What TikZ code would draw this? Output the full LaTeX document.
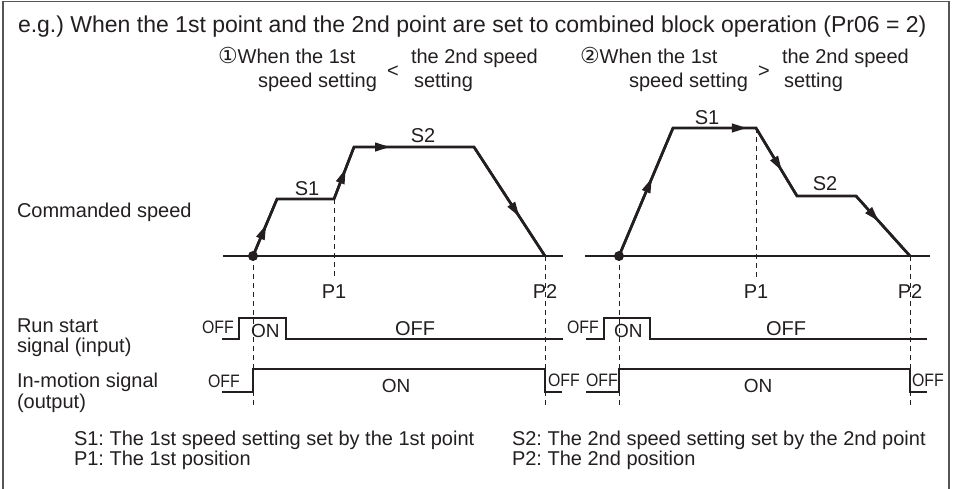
\documentclass[tikz,border=0pt]{standalone}
\usepackage{fontspec}
\setmainfont{Liberation Sans}
\newfontfamily\symfont{DejaVu Sans}
\newfontfamily\narrowfont[FakeStretch=0.88]{Liberation Sans}
\usetikzlibrary{arrows.meta,decorations.markings}
\definecolor{ink}{HTML}{231F20}
\definecolor{framegray}{HTML}{555555}
\frenchspacing
\begin{document}
\begin{tikzpicture}[x=1pt,y=-1pt,
  txt/.style={inner sep=0pt, outer sep=0pt, text=ink},
  ttl/.style={txt, font=\fontsize{23}{27}\selectfont},
  lab/.style={txt, font=\fontsize{20}{24}\selectfont},
  sub/.style={txt, font=\fontsize{20}{24}\selectfont},
  big/.style={txt, font=\fontsize{20}{24}\selectfont},
  sml/.style={txt, font=\narrowfont\fontsize{18}{20}\selectfont},
  onl/.style={txt, font=\fontsize{19}{22}\selectfont},
  foot/.style={txt, font=\fontsize{20}{24}\selectfont},
  speed/.style={line width=2.6pt, line join=miter, draw=ink},
  axis/.style={line width=2.4pt, draw=ink},
  sig/.style={line width=2.2pt, draw=ink, line join=miter},
  guide/.style={line width=1pt, dash pattern=on 5pt off 4pt, draw=ink},
  marr/.style={postaction={decorate}, decoration={markings, mark=at position #1 with {\arrow[ink]{Triangle[length=15pt,width=8.5pt]}}}},
]
\useasboundingbox (0,0) rectangle (954,488);
\draw[framegray, line width=1.5pt] (3,495) -- (3,1.5) -- (949,1.5) -- (949,495);

% title and subtitles
\node[ttl, anchor=base west] (title) at (18,32) {e.g.) When the 1st point and the 2nd point are set to combined block operation (Pr06 = 2)};
\node[sub, anchor=base west] (c1a) at (218,63) {{\symfont\fontsize{22}{24}\selectfont ①}When the 1st};
\node[sub, anchor=base west] (c1b) at (258,87) {speed setting};
\node[sub] (lt) at (393,72) {<};
\node[sub, anchor=base west] (c1c) at (411,63) {the 2nd speed};
\node[sub, anchor=base west] (c1d) at (414,87) {setting};
\node[sub, anchor=base west] (c2a) at (580,63) {{\symfont\fontsize{22}{24}\selectfont ②}When the 1st};
\node[sub, anchor=base west] (c2b) at (629,87) {speed setting};
\node[sub] (gt) at (764,72) {>};
\node[sub, anchor=base west] (c2c) at (782,63) {the 2nd speed};
\node[sub, anchor=base west] (c2d) at (784,87) {setting};

% row labels
\node[lab, anchor=base west] (cs) at (17,217) {Commanded speed};
\node[lab, anchor=base west] (rs1) at (17,332) {Run start};
\node[lab, anchor=base west] (rs2) at (17,352) {signal (input)};
\node[lab, anchor=base west] (im1) at (17,387) {In-motion signal};
\node[lab, anchor=base west] (im2) at (17,408) {(output)};

% left speed graph
\coordinate (LB0) at (223,256);
\coordinate (LB1) at (563,256);
\coordinate (A0) at (253,256);
\coordinate (A1) at (277,199);
\coordinate (A2) at (334,199);
\coordinate (A3) at (354,147);
\coordinate (A4) at (474,147);
\coordinate (A5) at (545,256);
\draw[axis] (LB0) -- (LB1);
\draw[guide] (A0) -- (253,408);
\draw[guide] (A2) -- (334,278);
\draw[guide] (A5) -- (545,408);
\draw[speed] (A0) -- (A1) -- (A2) -- (A3) -- (A4) -- (A5);
\draw[speed, marr=0.55] (A0) -- (A1);
\draw[speed, marr=0.58] (A2) -- (A3);
\draw[speed, marr=0.30] (A3) -- (A4);
\draw[speed, marr=0.64] (A4) -- (A5);
\fill[ink] (A0) circle (5pt);
\node[big] (s1l) at (307,188.5) {S1};
\node[big] (s2l) at (423,136) {S2};
\node[big] (p1l) at (334,292) {P1};
\node[big] (p2l) at (545,292) {P2};

% right speed graph
\coordinate (RB0) at (585,256);
\coordinate (RB1) at (930,256);
\coordinate (B0) at (619,256);
\coordinate (B1) at (673,128);
\coordinate (B2) at (756,128);
\coordinate (B3) at (797,196);
\coordinate (B4) at (856,196);
\coordinate (B5) at (910,256);
\draw[axis] (RB0) -- (RB1);
\draw[guide] (B0) -- (619,408);
\draw[guide] (B2) -- (756,278);
\draw[guide] (B5) -- (910,408);
\draw[speed] (B0) -- (B1) -- (B2) -- (B3) -- (B4) -- (B5);
\draw[speed, marr=0.61] (B0) -- (B1);
\draw[speed, marr=0.89] (B1) -- (B2);
\draw[speed, marr=0.63] (B2) -- (B3);
\draw[speed, marr=0.42] (B4) -- (B5);
\fill[ink] (B0) circle (5pt);
\node[big] (s1r) at (707,117.5) {S1};
\node[big] (s2r) at (825,184) {S2};
\node[big] (p1r) at (756,292) {P1};
\node[big] (p2r) at (910,292) {P2};

% run start signal
\draw[sig] (222,339) -- (239,339) -- (239,318) -- (286,318) -- (286,339) -- (563,339);
\draw[sig] (586,339) -- (604,339) -- (604,318) -- (650,318) -- (650,339) -- (927,339);
\node[sml, anchor=base west] (rsoff1) at (202,333) {OFF};
\node[onl, anchor=base west] (rson1) at (251,337) {ON};
\node[big, anchor=base] (rsoff2) at (415,335) {OFF};
\node[sml, anchor=base west] (rsoff3) at (567,333) {OFF};
\node[onl, anchor=base west] (rson2) at (614,337) {ON};
\node[big, anchor=base] (rsoff4) at (786,335) {OFF};

% in-motion signal
\draw[sig] (222,392) -- (253,392) -- (253,369) -- (545,369) -- (545,392) -- (562,392);
\draw[sig] (586,392) -- (619,392) -- (619,369) -- (910,369) -- (910,392) -- (927,392);
\node[sml, anchor=base west] (imoff1) at (208,387) {OFF};
\node[onl, anchor=base] (imon1) at (396,392) {ON};
\node[sml, anchor=base west] (imoff2) at (548,386) {OFF};
\node[sml, anchor=base west] (imoff3) at (586,386) {OFF};
\node[onl, anchor=base] (imon2) at (758,392) {ON};
\node[sml, anchor=base west] (imoff4) at (912,386) {OFF};

% footnotes
\node[foot, anchor=base west] (fn1a) at (74,445) {S1: The 1st speed setting set by the 1st point};
\node[foot, anchor=base west] (fn1b) at (74,465) {P1: The 1st position};
\node[foot, anchor=base west] (fn2a) at (512,445) {S2: The 2nd speed setting set by the 2nd point};
\node[foot, anchor=base west] (fn2b) at (512,465) {P2: The 2nd position};
\end{tikzpicture}
\end{document}
